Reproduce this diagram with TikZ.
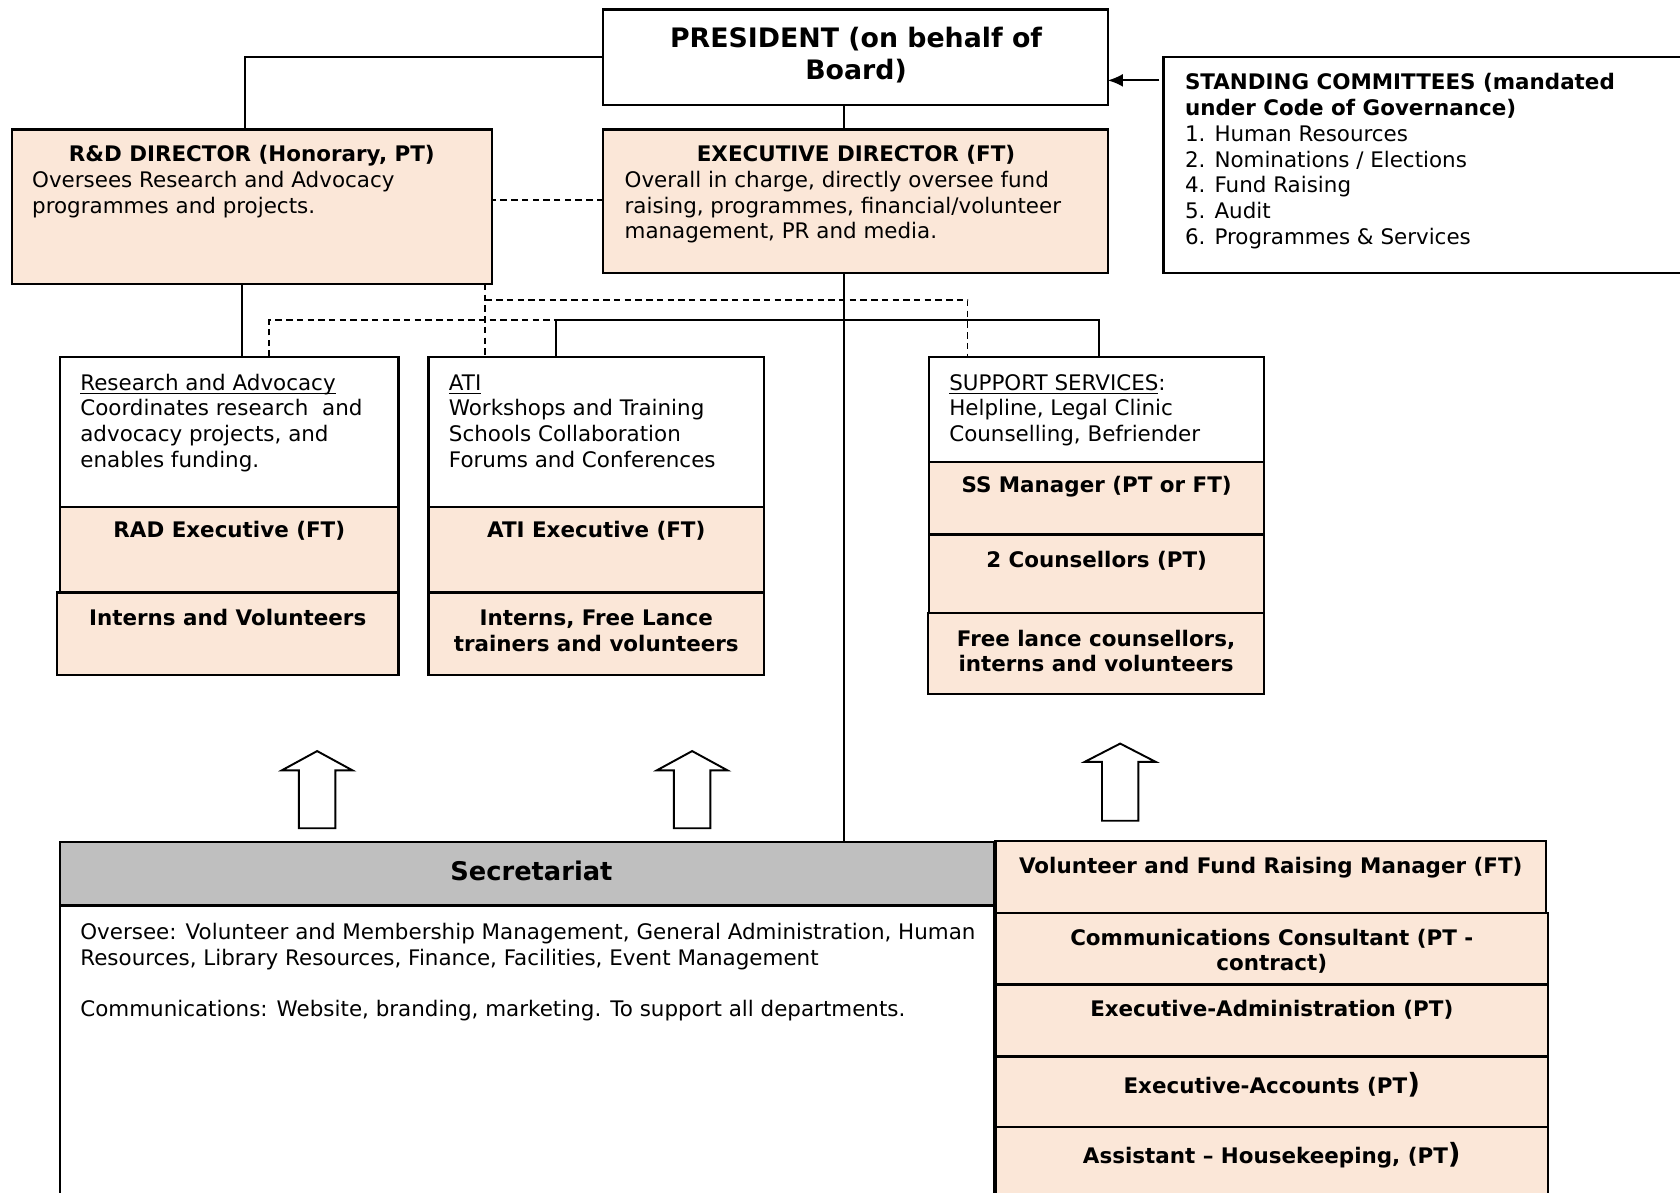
\documentclass[tikz,border=0pt]{standalone}
\usepackage{fontspec}
\setmainfont{DejaVu Sans}
\usetikzlibrary{arrows.meta,calc}
\definecolor{peach}{RGB}{251,231,216}
\definecolor{hdrgray}{RGB}{191,191,191}
\newcommand{\mylinesl}[1]{\begin{tabular}[t]{@{}l@{}}#1\end{tabular}}
\newcommand{\mylinesc}[1]{\begin{tabular}[t]{@{}c@{}}#1\end{tabular}}
\newcommand{\myul}[1]{\underline{\smash{#1}}}
\newcommand{\boxnode}[6]{\node[#2,anchor=north west,minimum width={(#5-#3)*0.5pt},minimum height={(#6-#4)*0.5pt}] (#1) at (#3,#4) {};}
\newcommand{\blockup}[5]{\draw[blockarrow] ({#2-17},#5) -- ({#2-17},#4) -- ({#2-33},#4) -- (#2,#3) -- ({#2+33},#4) -- ({#2+17},#4) -- ({#2+17},#5) -- cycle;}
\begin{document}
\begin{tikzpicture}[x=0.5pt,y=-0.5pt,
  every node/.style={font=\fontsize{10}{12}\selectfont, inner sep=0pt, outer sep=0pt},
  box/.style={draw, line width=1.1pt, fill=white},
  pbox/.style={box, fill=peach},
  gbox/.style={box, fill=hdrgray},
  conn/.style={line width=0.85pt},
  dconn/.style={conn, dash pattern=on 3pt off 2pt},
  txt/.style={anchor=base west},
  ctxt/.style={anchor=base},
  bft/.style={font=\fontsize{10}{12}\selectfont\bfseries},
  blockarrow/.style={line width=0.9pt, fill=white, line join=miter}]
\useasboundingbox (0,0) rectangle (1568,1113);
\clip (0,0) rectangle (1568,1113);

% ---- boxes ----
\boxnode{pres}{box}{563}{9}{1034}{98}
\boxnode{sc}{box}{1086}{53}{1580}{255}
\boxnode{rd}{pbox}{11}{121}{459}{265}
\boxnode{exec}{pbox}{563}{121}{1034}{255}

\boxnode{ra}{box}{56}{333}{372}{473}
\boxnode{rade}{pbox}{56}{473}{372}{553}
\boxnode{raiv}{pbox}{53}{553}{372}{630}

\boxnode{ati}{box}{400}{333}{713}{473}
\boxnode{atie}{pbox}{400}{473}{713}{553}
\boxnode{atiiv}{pbox}{400}{553}{713}{630}

\boxnode{ss}{box}{867}{333}{1180}{431}
\boxnode{ssm}{pbox}{867}{431}{1180}{499}
\boxnode{ssc}{pbox}{867}{499}{1180}{572}
\boxnode{ssf}{pbox}{866}{572}{1180}{648}

\boxnode{sechead}{gbox}{56}{786}{928}{845}
\boxnode{secbody}{box}{56}{845}{928}{1130}

\boxnode{vfr}{pbox}{929}{785}{1443}{852}
\boxnode{cc}{pbox}{929}{852}{1445}{919}
\boxnode{ea}{pbox}{929}{919}{1445}{986}
\boxnode{eacc}{pbox}{929}{986}{1445}{1052}
\boxnode{ah}{pbox}{929}{1052}{1445}{1130}

% ---- connectors ----
\coordinate (bus) at (788,299);
\draw[conn] (pres.west) -| ([xshift=-3pt]rd.north);
\draw[conn] ([xshift=-5.25pt]pres.south) -- ([xshift=-5.25pt]exec.north);
\draw[conn,-{Latex[length=7pt,width=6pt]}] ([yshift=-10.75pt]pres.east -| sc.west) ++(-4,0) -- ([yshift=-10.75pt]pres.east);
\draw[dconn] (exec.west |- 0,187) -- (rd.east |- 0,187);
\draw[conn] ([xshift=-5.25pt]exec.south) -- ([xshift=-5.25pt]exec.south |- sechead.north);
\draw[conn] ([xshift=-18.75pt]ati.north) |- (bus) -| ([xshift=1.25pt]ss.north);
\draw[conn] ([xshift=-4.5pt]rd.south) -- ([xshift=-4.5pt]rd.south |- ra.north);
\draw[dconn] ([xshift=-3pt]rd.south east) -- ([xshift=-3pt]rd.south east |- ati.north);
\draw[dconn] ([xshift=-3pt,yshift=-7.5pt]rd.south east) -| ([xshift=-60.25pt]ss.north);
\draw[dconn] ([xshift=18.5pt]ra.north) |- ([xshift=-18.75pt]ati.north |- bus);

% ---- block arrows ----
\blockup{a1}{296}{701}{719}{773}
\blockup{a2}{646}{701}{719}{773}
\blockup{a3}{1045.5}{694}{711}{766}

% ---- texts ----
\node[ctxt, font=\fontsize{12.5}{15}\selectfont\bfseries] (tpres) at (799,44) {\mylinesc{PRESIDENT (on behalf of\\Board)}};
\node[txt] (tsc) at (1106,84) {\mylinesl{\textbf{STANDING COMMITTEES (mandated}\\\textbf{under Code of Governance)}\\1. Human Resources\\2. Nominations / Elections\\4. Fund Raising\\5. Audit\\6. Programmes \& Services}};

\node[ctxt, bft] (trd) at (235,151) {R\&D DIRECTOR (Honorary, PT)};
\node[txt] (trdd) at (30,175) {\mylinesl{Oversees Research and Advocacy\\programmes and projects.}};
\node[ctxt, bft] (texec) at (799,151) {EXECUTIVE DIRECTOR (FT)};
\node[txt] (texecd) at (583,175) {\mylinesl{Overall in charge, directly oversee fund\\raising, programmes, financial/volunteer\\management, PR and media.}};

\node[txt] (tra) at (75,364) {\mylinesl{\myul{Research and Advocacy}\\Coordinates research\ \ and\\advocacy projects, and\\enables funding.}};
\node[txt] (tati) at (419,364) {\mylinesl{\myul{ATI}\\Workshops and Training\\Schools Collaboration\\Forums and Conferences}};
\node[txt] (tss) at (886,364) {\mylinesl{\myul{SUPPORT SERVICES}:\\Helpline, Legal Clinic\\Counselling, Befriender}};

\node[ctxt, bft] (trade) at (214,502) {RAD Executive (FT)};
\node[ctxt, bft] (traiv) at (212.5,584) {Interns and Volunteers};
\node[ctxt, bft] (tatie) at (556.5,502) {ATI Executive (FT)};
\node[ctxt, bft] (tatiiv) at (556.5,584) {\mylinesc{Interns, Free Lance\\trainers and volunteers}};
\node[ctxt, bft] (tssm) at (1023.5,460) {SS Manager (PT or FT)};
\node[ctxt, bft] (tssc) at (1023.5,530) {2 Counsellors (PT)};
\node[ctxt, bft] (tssf) at (1023,603) {\mylinesc{Free lance counsellors,\\interns and volunteers}};

\node[ctxt, font=\fontsize{12}{14}\selectfont\bfseries] (tsec) at (496,822) {Secretariat};
\node[txt] (tsecb) at (75,877) {\mylinesl{Oversee: Volunteer and Membership Management, General Administration, Human\\Resources, Library Resources, Finance, Facilities, Event Management\\ \\Communications: Website, branding, marketing. To support all departments.}};

\node[ctxt, bft] (tvfr) at (1186,815) {Volunteer and Fund Raising Manager (FT)};
\node[ctxt, bft] (tcc) at (1187,882) {\mylinesc{Communications Consultant (PT -\\contract)}};
\node[ctxt, bft] (tea) at (1187,949) {Executive-Administration (PT)};
\node[ctxt, bft] (teacc) at (1187,1021) {Executive-Accounts (PT{\fontsize{13}{12}\selectfont)}};
\node[ctxt, bft] (tah) at (1187,1086) {Assistant -- Housekeeping, (PT{\fontsize{13}{12}\selectfont)}};
\end{tikzpicture}
\end{document}
